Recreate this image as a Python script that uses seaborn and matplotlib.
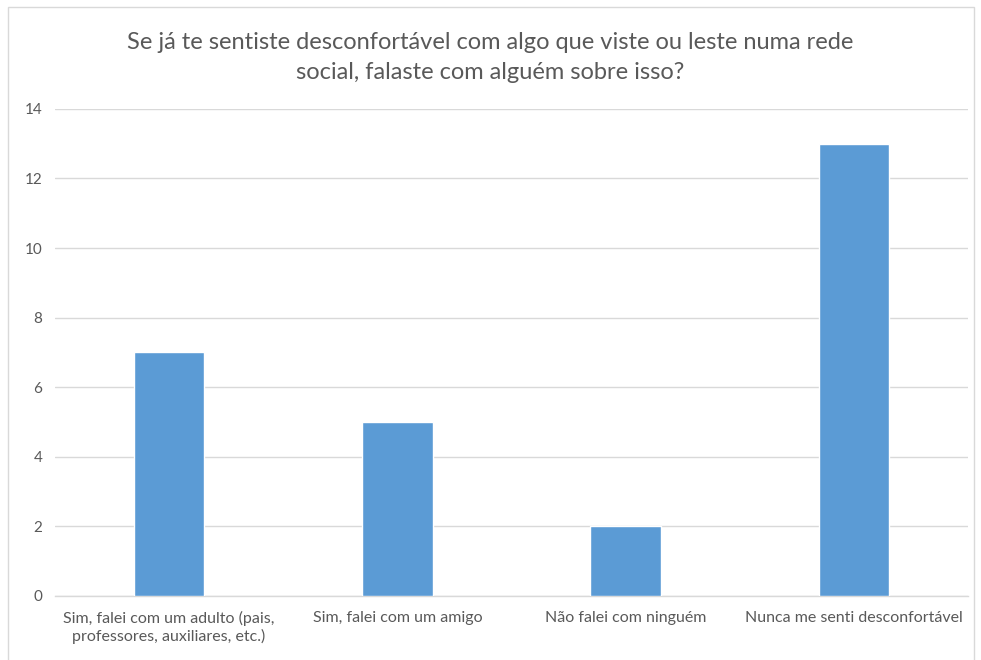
import pandas as pd
import matplotlib.pyplot as plt
import seaborn as sns
from matplotlib.patches import Rectangle

categories = ['Sim, falei com um adulto (pais,\nprofessores, auxiliares, etc.)',
              'Sim, falei com um amigo',
              'Não falei com ninguém',
              'Nunca me senti desconfortável']
counts = [7, 5, 2, 13]
yticks = [0, 2, 4, 6, 8, 10, 12, 14]
title = 'Se já te sentiste desconfortável com algo que viste ou leste numa rede\nsocial, falaste com alguém sobre isso?'

df = pd.DataFrame({'Resposta': categories, 'Total': counts})

sns.set_style('white')
plt.rcParams['font.family'] = ['Lato', 'DejaVu Sans']

fig = plt.figure(figsize=(9.81, 6.6), dpi=100)
ax = fig.add_axes([0.056, 0.097, 0.931, 0.738])

sns.barplot(x='Resposta', y='Total', data=df, color='#5B9BD5', width=0.31,
            saturation=1, ax=ax, zorder=3)

ax.set_ylim(0, 14)
ax.set_yticks(yticks)
ax.set_xlim(-0.5, 3.5)
ax.grid(axis='y', color='#D9D9D9', linewidth=1, zorder=0)
ax.set_axisbelow(True)
for s in ['left', 'right', 'top']:
    ax.spines[s].set_visible(False)
ax.spines['bottom'].set_color('#D9D9D9')
ax.spines['bottom'].set_linewidth(1)
ax.tick_params(axis='x', length=0, labelsize=11.5, colors='#595959', pad=11)
ax.tick_params(axis='y', length=0, labelsize=11, colors='#595959', pad=9)
ax.set_xlabel('')
ax.set_ylabel('')

fig.text(0.5, 0.951, title, ha='center', va='top', fontsize=17,
         color='#595959', linespacing=1.5)

# chart border
fig.patches.append(Rectangle((0.008, -0.01), 0.985, 1.0, transform=fig.transFigure,
                             fill=False, edgecolor='#D9D9D9', linewidth=1))

fig.savefig('out.png', dpi=100)
